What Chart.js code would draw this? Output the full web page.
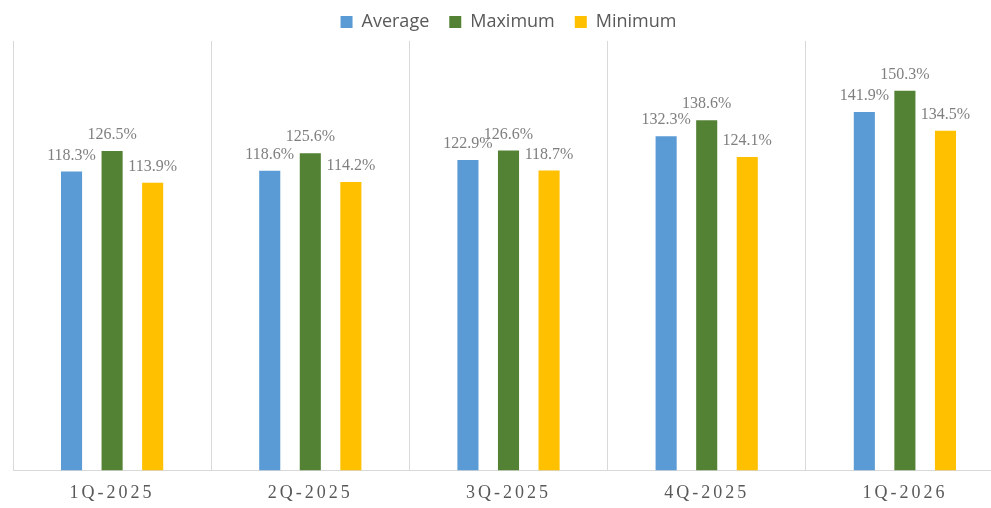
<!DOCTYPE html>
<html>
<head>
<meta charset="utf-8">
<script src="https://cdn.jsdelivr.net/npm/chart.js@4.4.1/dist/chart.umd.min.js"></script>
<style>
  html, body { margin: 0; padding: 0; background: #fff; overflow: hidden; }
  #wrap { width: 1017px; height: 508px; }
</style>
</head>
<body>
<div id="wrap"><canvas id="c"></canvas></div>
<script>
// Chart data
const quarters = ['1Q-2025', '2Q-2025', '3Q-2025', '4Q-2025', '1Q-2026'];
const averageVals = [118.3, 118.6, 122.9, 132.3, 141.9];
const maximumVals = [126.5, 125.6, 126.6, 138.6, 150.3];
const minimumVals = [113.9, 114.2, 118.7, 124.1, 134.5];

// value labels above bars, then letter spacing for the x labels drawn after
const barLabels = {
  id: 'barLabels',
  afterDatasetsDraw(chart) {
    const ctx = chart.ctx;
    ctx.save();
    ctx.font = '16px "Liberation Serif", "Times New Roman", serif';
    ctx.fillStyle = '#7f7f7f';
    ctx.textAlign = 'center';
    ctx.textBaseline = 'alphabetic';
    chart.data.datasets.forEach((ds, i) => {
      chart.getDatasetMeta(i).data.forEach((bar, j) => {
        ctx.fillText(ds.data[j].toFixed(1) + '%', bar.x, bar.y - 12);
      });
    });
    ctx.restore();
    ctx.letterSpacing = '3px';
  },
  afterDraw(chart) {
    chart.ctx.letterSpacing = '0px';
  }
};

const ctx = document.getElementById('c').getContext('2d');
new Chart(ctx, {
  type: 'bar',
  data: {
    labels: quarters,
    datasets: [
      { label: 'Average', data: averageVals, backgroundColor: '#5B9BD5' },
      { label: 'Maximum', data: maximumVals, backgroundColor: '#548235' },
      { label: 'Minimum', data: minimumVals, backgroundColor: '#FFC000' }
    ]
  },
  options: {
    responsive: true,
    maintainAspectRatio: false,
    animation: false,
    datasets: { bar: { categoryPercentage: 0.614, barPercentage: 0.52 } },
    layout: { padding: { left: 13, right: 13, top: -7, bottom: -8 } },
    plugins: {
      tooltip: { enabled: false },
      legend: {
        position: 'top',
        labels: {
          boxWidth: 12,
          boxHeight: 12,
          padding: 20,
          color: '#595959',
          font: { family: '"Open Sans", sans-serif', size: 18 }
        }
      }
    },
    scales: {
      x: {
        grid: { display: true, color: '#d9d9d9', drawTicks: false, offset: true },
        border: { display: true, color: '#d9d9d9' },
        ticks: {
          z: 1,
          padding: 12,
          color: '#595959',
          font: { family: '"Liberation Serif", "Times New Roman", serif', size: 18 }
        }
      },
      y: {
        display: false,
        min: 0,
        max: 170
      }
    }
  },
  plugins: [barLabels]
});
</script>
</body>
</html>
